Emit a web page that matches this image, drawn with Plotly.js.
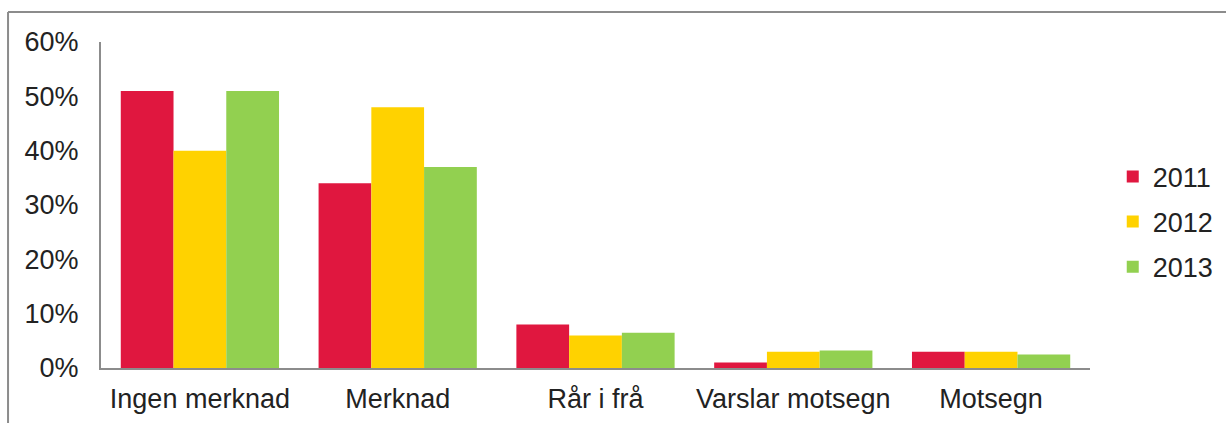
<!DOCTYPE html>
<html><head><meta charset="utf-8">
<script src="https://cdn.plot.ly/plotly-3.0.1.min.js"></script>
<style>html,body{margin:0;padding:0;background:#fff;}#chart{width:1226px;height:423px;}</style>
</head><body><div id="chart"></div>
<script>
const categories = ["Ingen merknad", "Merknad", "Rår i frå", "Varslar motsegn", "Motsegn"];
const v2011 = [51, 34, 8, 1, 3];
const v2012 = [40, 48, 6, 3, 3];
const v2013 = [51, 37, 6.5, 3.2, 2.5];
const years = ["2011", "2012", "2013"];
const colors = ["#E0173F", "#FFD200", "#92D050"];
const series = [v2011, v2012, v2013];
const yTicks = [0, 10, 20, 30, 40, 50, 60];
const yTickText = ["0%", "10%", "20%", "30%", "40%", "50%", "60%"];

const font = {family: "Liberation Sans, Arial, sans-serif", size: 27, color: "#222"};
const data = series.map((s, i) => ({
  type: "bar", name: years[i], x: categories, y: s,
  marker: {color: colors[i], line: {width: 0}},
  legendgroup: years[i], hoverinfo: "x+y"
}));
const layout = {
  width: 1226, height: 423,
  margin: {l: 101, r: 136, t: 42, b: 55, autoexpand: false},
  paper_bgcolor: "#fff", plot_bgcolor: "#fff",
  font: font,
  barmode: "group", bargap: 0.2, bargroupgap: 0,
  showlegend: true,
  legend: {x: 1.023, xanchor: "left", y: 0.448, yanchor: "middle", traceorder: "grouped", tracegroupgap: 7, font: font, itemwidth: 30},
  xaxis: {showline: true, linecolor: "#8c8c8c", linewidth: 2, ticks: "", showgrid: false, zeroline: false, tickfont: font, ticklabelstandoff: 6},
  yaxis: {range: [0, 60], tickmode: "array", tickvals: yTicks, ticktext: yTickText, showline: true, linecolor: "#8c8c8c", linewidth: 2, ticks: "", showgrid: false, zeroline: false, tickfont: font, ticklabelstandoff: 15},
  shapes: [
    {type: "line", xref: "paper", yref: "paper", x0: -0.094, x1: 1.2, y0: 1.092, y1: 1.092, line: {color: "#8c8c8c", width: 2}},
    {type: "line", xref: "paper", yref: "paper", x0: -0.094, x1: -0.094, y0: 1.092, y1: -0.2, line: {color: "#8c8c8c", width: 2}}
  ]
};
Plotly.newPlot("chart", data, layout, {displayModeBar: false, staticPlot: true});
</script></body></html>
